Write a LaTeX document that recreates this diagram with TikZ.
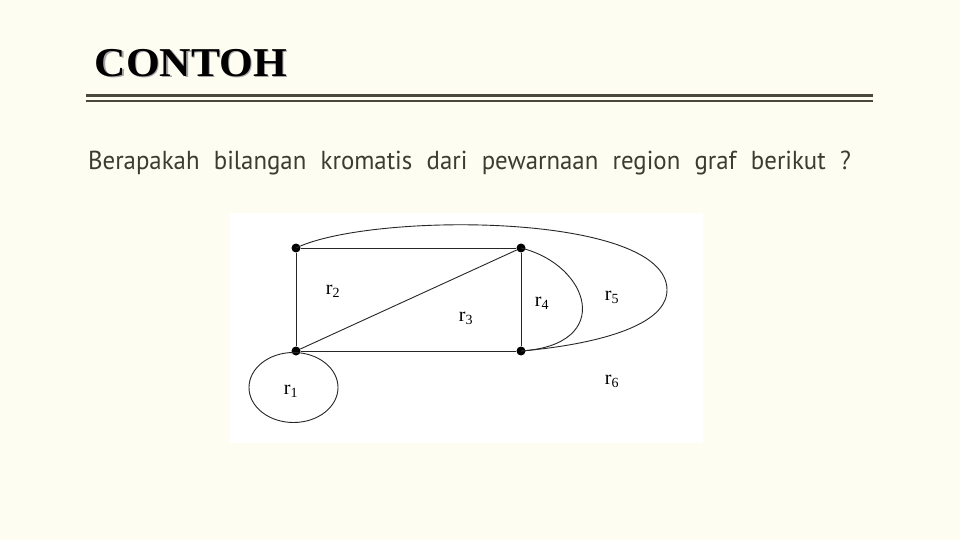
\documentclass[tikz,border=0pt]{standalone}
\usepackage{fontspec}
\setmainfont{Liberation Serif}
\newfontfamily\bodyfont{PT Sans}
\usetikzlibrary{positioning}
\definecolor{paper}{RGB}{254,253,241}
\definecolor{rulegray}{RGB}{74,72,60}
\definecolor{inkgray}{RGB}{60,60,48}
\tikzstyle{vert} = [circle, fill = black, inner sep = 0, minimum size = 9]
\tikzstyle{edge} = [draw = black!85, line width = 0.9]
\tikzstyle{lbl} = [font = \fontsize{20}{20}\selectfont, inner sep = 0]
\newcommand{\rg}[1]{r\textsubscript{#1}}
\newcommand{\widespace}{\spaceskip=15pt\relax}

\begin{document}
\begin{tikzpicture}[x = 1pt, y = -1pt, node distance = 0]
  \fill [paper] (0, 0) rectangle (960, 540);
  \useasboundingbox (0, 0) rectangle (960, 540);
  % title
  \node [anchor = base west, inner sep = 0, text = black!35, xscale = 1.06,
    font = \fontsize{41}{41}\selectfont\bfseries] (title-shadow) at (96, 78) {CONTOH};
  \node [anchor = base west, inner sep = 0, xscale = 1.06,
    font = \fontsize{41}{41}\selectfont\bfseries] (title) at (94.5, 76.5) {CONTOH};
  \draw [rulegray, line width = 3] (86, 95.5) -- (873, 95.5);
  \draw [rulegray, line width = 2] (86, 101.5) -- (873, 101.5);
  \node [anchor = base west, inner sep = 0, text = inkgray, xscale = 0.955,
    font = \fontsize{26}{26}\selectfont\bodyfont\widespace] (question) at (88, 170)
    {Berapakah bilangan kromatis dari pewarnaan region graf berikut ?};
  % picture
  \fill [white] (230, 213) rectangle (703, 443);
  % 0-0
  \node [vert] (v-0-0) at (296, 248) {};
  \node [vert, right of = v-0-0, xshift = 225] (v-0-1) {};
  % 1-0
  \node [vert, below of = v-0-0, yshift = -103] (v-1-0) {};
  \node [vert, right of = v-1-0, xshift = 225] (v-1-1) {};

  \draw [edge] (v-0-0) -- (v-0-1) -- (v-1-1) -- (v-1-0) -- (v-0-0);
  \draw [edge] (v-1-0) -- (v-0-1);
  \draw [edge] (v-0-1.center) .. controls (590, 265) and (615, 345) .. (v-1-1.center);
  \draw [edge] (v-0-0.center) .. controls (370, 212) and (667, 212) .. (667, 290)
    .. controls (667, 330) and (580, 346) .. (v-1-1.center);
  \draw [edge] (293.5, 387.5) ellipse [x radius = 44.5, y radius = 35];

  \node [lbl] (r-1) at (291, 391) {\rg{1}};
  \node [lbl] (r-2) at (333, 291) {\rg{2}};
  \node [lbl] (r-3) at (466, 318) {\rg{3}};
  \node [lbl] (r-4) at (542, 303) {\rg{4}};
  \node [lbl] (r-5) at (612, 297) {\rg{5}};
  \node [lbl] (r-6) at (612, 381) {\rg{6}};
\end{tikzpicture}
\end{document}
